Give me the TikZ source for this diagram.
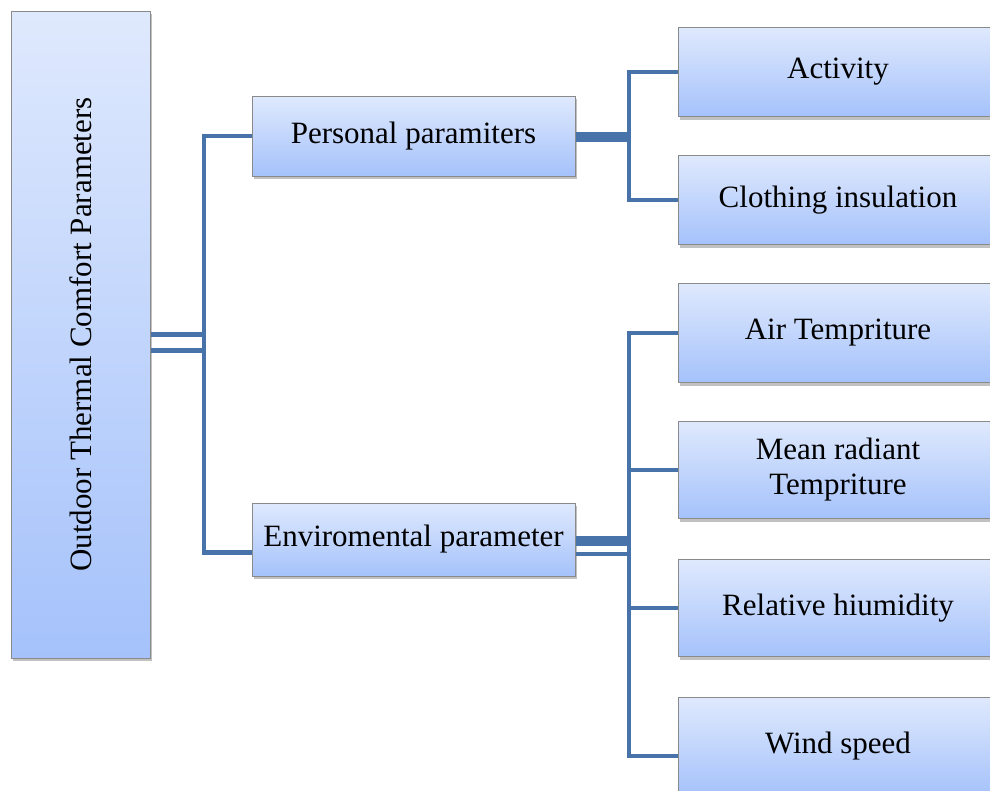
\documentclass[tikz,border=0pt]{standalone}
\usepackage{fontspec}
\setmainfont{Liberation Serif}
\usepackage{graphicx}
\usetikzlibrary{shadows}
\definecolor{boxtop}{RGB}{223,233,253}
\definecolor{boxbot}{RGB}{165,194,251}
\definecolor{busblue}{RGB}{71,115,170}
\definecolor{boxedge}{RGB}{138,138,138}

\begin{document}
\begin{tikzpicture}[x=1pt,y=-1pt,
    pbox/.style={draw=boxedge, line width=1pt, top color=boxtop, bottom color=boxbot,
      inner sep=0pt, align=center, font=\fontsize{31}{35}\selectfont,
      drop shadow={shadow xshift=2pt, shadow yshift=-3pt, opacity=0.35, fill=black!70}},
    bus/.style={draw=busblue, line width=4.5pt},
    fatbus/.style={draw=busblue, line width=10pt}]
  \useasboundingbox (0,0) rectangle (990,790);
  \clip (0,0) rectangle (990,790);

  % boxes
  \node[pbox, minimum width=139pt, minimum height=647pt] (otc) at (80.5,334.5)
    {\rotatebox{90}{Outdoor Thermal Comfort Parameters}};
  \node[pbox, minimum width=323pt, minimum height=80pt] (pers) at (413.5,136) {Personal paramiters};
  \node[pbox, minimum width=323pt, minimum height=73pt] (env) at (413.5,539.5) {Enviromental parameter};

  \node[pbox, minimum width=320pt, minimum height=89pt] (act) at (838,72) {Activity};
  \node[pbox, minimum width=320pt, minimum height=89pt] (clo) at (838,200) {Clothing insulation};
  \node[pbox, minimum width=320pt, minimum height=99pt] (air) at (838,333) {Air Tempriture};
  \node[pbox, minimum width=320pt, minimum height=97pt] (mean) at (838,470) {Mean radiant\\Tempriture};
  \node[pbox, minimum width=320pt, minimum height=97pt] (rel) at (838,608) {Relative hiumidity};
  \node[pbox, minimum width=320pt, minimum height=99pt] (wind) at (838,746.5) {Wind speed};

  % buses
  \coordinate (lbus) at (204,342);
  \coordinate (rbus) at (629,0);
  \coordinate (otcb) at ([yshift=-16pt]otc.east);
  \coordinate (envin) at ([yshift=-13pt]env.west);
  \coordinate (persout) at ([yshift=-1pt]pers.east);
  \coordinate (envouta) at ([yshift=-1.5pt]env.east);
  \coordinate (envoutb) at ([yshift=-14.5pt]env.east);
  \coordinate (windin) at ([yshift=-9.5pt]wind.west);

  % left side
  \draw[bus] (otc.east) -- (otc.east -| lbus);
  \draw[bus] (otcb) -- (otcb -| lbus);
  \draw[bus] (envin) -| (lbus |- pers.west) -- (pers.west);

  % personal side
  \draw[fatbus] (persout) -- (persout -| rbus);
  \draw[bus] (act.west) -| (rbus |- clo.west) -- (clo.west);

  % environmental side
  \draw[fatbus] (envouta) -- (envouta -| rbus);
  \draw[bus] (envoutb) -- (envoutb -| rbus);
  \draw[bus] (air.west) -| (rbus |- windin) -- (windin);
  \foreach \n in {mean,rel}
    \draw[bus] (\n.west) -- (rbus |- \n.west);
\end{tikzpicture}
\end{document}
